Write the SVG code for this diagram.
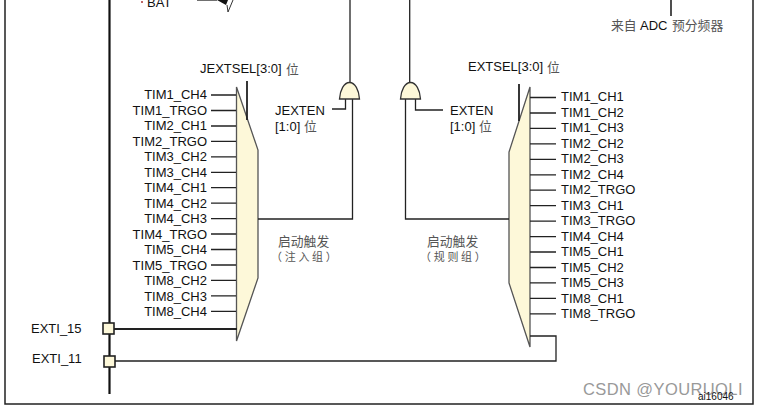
<svg xmlns="http://www.w3.org/2000/svg" width="759" height="408" viewBox="0 0 759 408">
<style>
.t{font-family:"Liberation Sans",Arial,sans-serif;font-size:13px;fill:#111}
.m{text-anchor:end}
.c{font-family:"Noto Sans CJK SC","Liberation Sans",sans-serif;font-size:12.800px;fill:#555}
.s{font-size:11px;letter-spacing:2.700px}
.w{fill:none;stroke:#222;stroke-width:1.300}
.mux{fill:#fdf8d9;stroke:#555;stroke-width:1.300}
.gate{fill:#fdf8d9;stroke:#333;stroke-width:1.300}
.sq{fill:#fdf8d9;stroke:#222;stroke-width:1.600}
</style>
<rect x="0" y="0" width="759" height="408" fill="#fff"/>
<path d="M5 0V404H753V0" fill="none" stroke="#222" stroke-width="1.500"/>
<g id="jadc-mux">
<path class="mux" d="M236.500 87L258 150V278L236.500 341Z"/>
<text class="t" x="200" y="73">JEXTSEL[3:0]</text>
<text class="c" x="286" y="74">位</text>
<text class="t m" x="207" y="99">TIM1_CH4</text>
<text class="t m" x="207" y="114.500">TIM1_TRGO</text>
<text class="t m" x="207" y="130">TIM2_CH1</text>
<text class="t m" x="207" y="146">TIM2_TRGO</text>
<text class="t m" x="207" y="161">TIM3_CH2</text>
<text class="t m" x="207" y="177">TIM3_CH4</text>
<text class="t m" x="207" y="192">TIM4_CH1</text>
<text class="t m" x="207" y="207.500">TIM4_CH2</text>
<text class="t m" x="207" y="223">TIM4_CH3</text>
<text class="t m" x="207" y="238.500">TIM4_TRGO</text>
<text class="t m" x="207" y="254">TIM5_CH4</text>
<text class="t m" x="207" y="270">TIM5_TRGO</text>
<text class="t m" x="207" y="285">TIM8_CH2</text>
<text class="t m" x="207" y="301">TIM8_CH3</text>
<text class="t m" x="207" y="316">TIM8_CH4</text>
<text class="c" x="278" y="246">启动触发</text>
<text class="c s" x="271" y="261">（注入组）</text>
</g>
<g id="adc-mux">
<path class="mux" d="M530 87L509 152V283L530 347Z"/>
<text class="t" x="468" y="71">EXTSEL[3:0]</text>
<text class="c" x="547" y="72">位</text>
<text class="t" x="561" y="101">TIM1_CH1</text>
<text class="t" x="561" y="116.500">TIM1_CH2</text>
<text class="t" x="561" y="132">TIM1_CH3</text>
<text class="t" x="561" y="148">TIM2_CH2</text>
<text class="t" x="561" y="163">TIM2_CH3</text>
<text class="t" x="561" y="179">TIM2_CH4</text>
<text class="t" x="561" y="194">TIM2_TRGO</text>
<text class="t" x="561" y="209.500">TIM3_CH1</text>
<text class="t" x="561" y="225">TIM3_TRGO</text>
<text class="t" x="561" y="240.500">TIM4_CH4</text>
<text class="t" x="561" y="256">TIM5_CH1</text>
<text class="t" x="561" y="271.500">TIM5_CH2</text>
<text class="t" x="561" y="287">TIM5_CH3</text>
<text class="t" x="561" y="302.500">TIM8_CH1</text>
<text class="t" x="561" y="318">TIM8_TRGO</text>
<text class="c" x="427" y="246">启动触发</text>
<text class="c s" x="420" y="261">（规则组）</text>
</g>
<g id="connectors">
<path d="M109.500 0V394" fill="none" stroke="#111" stroke-width="2.200"/>
<path class="w" d="M350 0V83M352.500 99V219H258M345.500 99V109H332M409.700 0V83M405.500 99V219H509M415.500 99V110H443"/>
<path class="w" style="stroke-width:1.600" d="M671 0V16"/>
<path class="w" d="M197 0H217"/>
<path class="w" style="stroke-width:1.800" d="M247 81V120M519 84V121"/>
<path class="w" style="stroke-width:1.800" d="M114 329H237"/>
<path class="w" d="M115 361H556V336H530"/>
<path class="w" d="M211 95H236M211 110.500H236M211 126H236M211 141.400H236M211 156.800H236M211 172.300H236M211 187.700H236M211 203.200H236M211 218.600H236M211 234H236M211 249.500H236M211 265H236M211 280.400H236M211 295.800H236M211 311.300H236"/>
<path class="w" d="M530 97.500H556M530 113H556M530 128.400H556M530 143.900H556M530 159.300H556M530 174.800H556M530 190.200H556M530 205.700H556M530 221.100H556M530 236.600H556M530 252H556M530 267.500H556M530 282.900H556M530 298.400H556M530 313.800H556"/>
</g>
<g id="bat">
<circle cx="142" cy="2" r="1" fill="#a33"/>
<text class="t" x="147" y="7">BAT</text>
<path d="M217 0H228L226 5Z" fill="#111"/>
<path d="M228 12L233 0" fill="none" stroke="#333" stroke-width="1"/>
<path d="M228 12L227 5" fill="none" stroke="#333" stroke-width="1"/>
</g>
<g id="adc-clock">
<text class="c" x="611" y="30">来自</text>
<text class="t" x="640" y="30">ADC</text>
<text class="c" x="672" y="30">预分频器</text>
</g>
<g id="jexten-gate">
<path class="gate" d="M339.500 99C340 90 344 82.500 349.500 82.500C355 82.500 359 90 359.500 99Z"/>
<text class="t" x="275" y="115">JEXTEN</text>
<text class="t" x="275" y="131">[1:0]</text>
<text class="c" x="304" y="131">位</text>
</g>
<g id="exten-gate">
<path class="gate" d="M400.500 99C401 90 405 82.500 410.500 82.500C416 82.500 420 90 420.500 99Z"/>
<text class="t" x="450" y="115">EXTEN</text>
<text class="t" x="450" y="131">[1:0]</text>
<text class="c" x="479" y="131">位</text>
</g>
<g id="exti15">
<rect class="sq" x="103" y="323" width="11" height="11"/>
<text class="t" x="31" y="333">EXTI_15</text>
</g>
<g id="exti11">
<rect class="sq" x="104" y="356" width="11" height="11"/>
<text class="t" x="32" y="363">EXTI_11</text>
</g>
<g id="footer">
<text style="font-family:'Liberation Sans',sans-serif;font-size:16.500px;fill:#999;letter-spacing:.4px" x="583" y="395">CSDN @YOURUOLI</text>
<text class="t" style="font-size:10px" x="698" y="400">ai16046</text>
</g>
</svg>
